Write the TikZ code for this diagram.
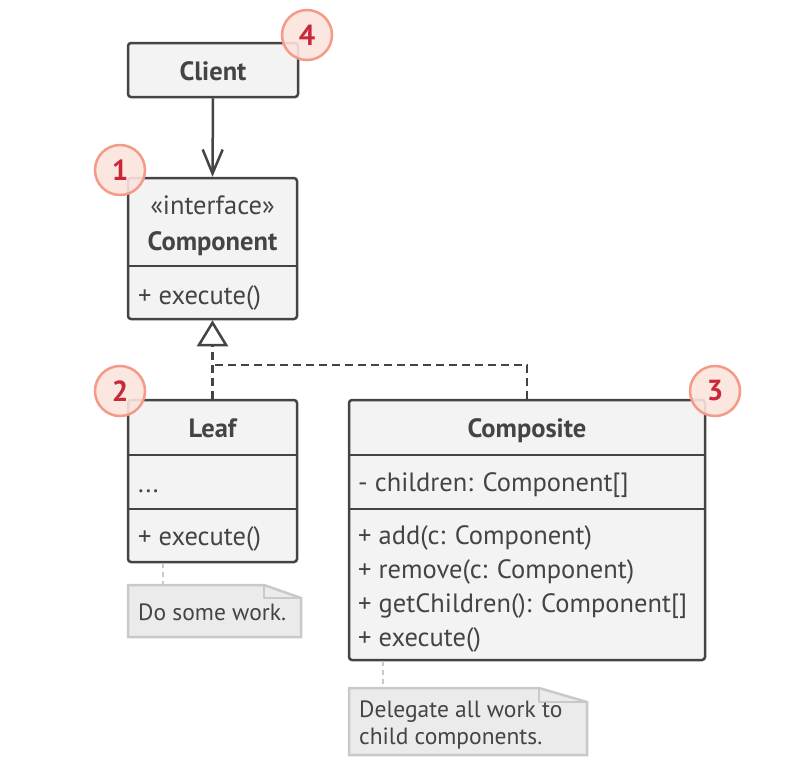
\documentclass[tikz,border=0pt]{standalone}
\usepackage{fontspec}
\setmainfont{PT Sans}
\usetikzlibrary{arrows.meta}
\definecolor{ink}{HTML}{444444}
\definecolor{boxfill}{HTML}{F3F3F3}
\definecolor{notefill}{HTML}{EBEBEB}
\definecolor{noteline}{HTML}{C9C9C9}
\definecolor{badgefill}{HTML}{FCE3DD}
\definecolor{badgeline}{HTML}{F49A89}
\definecolor{badgetext}{HTML}{C7283A}
\tikzset{
  umlbox/.style={draw=ink, fill=boxfill, line width=2.5pt, rounded corners=3pt, inner sep=0pt},
  divider/.style={draw=ink, line width=2.5pt},
  title/.style={font=\fontsize{26.5}{30}\selectfont\bfseries, text=ink, inner sep=0pt, anchor=base},
  stereo/.style={font=\fontsize{26.5}{30}\selectfont, text=ink, inner sep=0pt, anchor=base},
  member/.style={font=\fontsize{26.5}{30}\selectfont, text=ink, inner sep=0pt, anchor=base west},
  notetext/.style={font=\fontsize{23.5}{27}\selectfont, text=ink, inner sep=0pt, anchor=base west, align=left},
  notebox/.style={draw=noteline, fill=notefill, line width=2.5pt},
  notelink/.style={draw=noteline, line width=2.5pt, dash pattern=on 5pt off 4pt},
  badge/.style={circle, draw=badgeline, fill=badgefill, fill opacity=0.9, text opacity=1, line width=2.5pt,
    minimum size=50pt, inner sep=0pt, text=badgetext, font=\fontsize{29}{30}\selectfont\bfseries},
  conn/.style={draw=ink, line width=2.5pt},
  dashconn/.style={draw=ink, line width=2.5pt, dash pattern=on 8pt off 5pt},
}
\begin{document}
\begin{tikzpicture}[x=1pt, y=-1pt]
\useasboundingbox (0,0) rectangle (798,777);
% Client
\node[umlbox, minimum width=170pt, minimum height=54pt] (client) at (213,70) {};
\node[title] (clientT) at (213,80) {Client};
% Component
\node[umlbox, minimum width=169pt, minimum height=141pt] (comp) at (212.5,248.5) {};
\draw[divider] (comp.west |- 0,266) -- (comp.east |- 0,266);
\node[stereo] (compS) at (212.5,214) {«interface»};
\node[title] (compT) at (212.5,250) {Component};
\node[member] (compM) at (138,304) {+ execute()};
% Leaf
\node[umlbox, minimum width=169pt, minimum height=162pt] (leaf) at (212.5,481) {};
\draw[divider] (leaf.west |- 0,455) -- (leaf.east |- 0,455);
\draw[divider] (leaf.west |- 0,509) -- (leaf.east |- 0,509);
\node[title] (leafT) at (212.5,437) {Leaf};
\node[member] (leafA) at (138,492) {...};
\node[member] (leafM) at (138,545) {+ execute()};
% Composite
\node[umlbox, minimum width=356pt, minimum height=260pt] (compo) at (527,530) {};
\draw[divider] (compo.west |- 0,455) -- (compo.east |- 0,455);
\draw[divider] (compo.west |- 0,509) -- (compo.east |- 0,509);
\node[title] (compoT) at (527,437) {Composite};
\node[member] (compoA) at (358,491) {- children: Component[]};
\node[member] (compoM1) at (358,544) {+ add(c: Component)};
\node[member] (compoM2) at (358,578) {+ remove(c: Component)};
\node[member] (compoM3) at (358,612) {+ getChildren(): Component[]};
\node[member] (compoM4) at (358,646) {+ execute()};
% Connectors
\draw[conn, -{Straight Barb[length=24pt, width=20pt, line width=2.5pt]}] (client.south) -- (comp.north);
\coordinate (junction) at (212.5,365);
\draw[dashconn, -{Triangle[open, length=26pt, width=31pt, line width=2.5pt, fill=white]}] (leaf.north) -- (comp.south);
\draw[dashconn] (compo.north) |- (junction);
% Notes
\draw[notebox] (128,585) -- (264,585) -- (301,598) -- (301,637) -- (128,637) -- cycle;
\draw[noteline, line width=2.5pt, line join=round] (264,585) -- (264,598) -- (301,598);
\node[notetext] (note1) at (138,620) {Do some work.};
\coordinate (n1top) at (163,585);
\draw[notelink] (leaf.south -| n1top) -- (n1top);
\draw[notebox] (349,688) -- (539,688) -- (587,702) -- (587,755) -- (349,755) -- cycle;
\draw[noteline, line width=2.5pt, line join=round] (539,688) -- (539,702) -- (587,702);
\node[notetext] (note2) at (359,744) {Delegate all work to\\child components.};
\coordinate (n2top) at (383,688);
\draw[notelink] (compo.south -| n2top) -- (n2top);
% Badges
\node[badge] (b4) at (307,35) {4};
\node[badge] (b1) at (120,170) {1};
\node[badge] (b2) at (120,391) {2};
\node[badge] (b3) at (715,391) {3};
\end{tikzpicture}
\end{document}
